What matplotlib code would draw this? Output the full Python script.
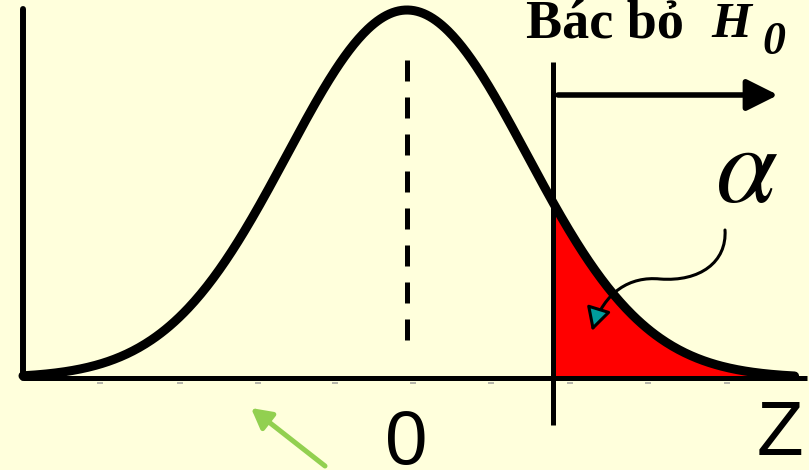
import numpy as np
import matplotlib
matplotlib.use("Agg")
import matplotlib.pyplot as plt
import matplotlib.transforms as mtransforms
from matplotlib.patches import FancyArrowPatch
from matplotlib.path import Path

# ---- data ----
mu = 0.0
sigma = 1.0
z_crit = 1.22                 # critical value (start of rejection region)
z_curve = (-3.2, 3.23)        # drawn extent of the density curve
z_axis = (-3.2, 3.33)         # horizontal axis extent
tick_z = [-2.56, -1.89, -1.24, -0.6, 0.05, 0.7, 1.36, 2.01, 2.67]
center_label = "0"
axis_label = "Z"
alpha_label = r"$\alpha$"
reject_text = "Bác bỏ"
reject_sym = "H"
reject_sub = "0"

W, H = 809, 470
BG = "#FFFFDC"

plt.rcParams["mathtext.fontset"] = "stix"

def pdf(z):
    return np.exp(-0.5 * ((z - mu) / sigma) ** 2) / (sigma * np.sqrt(2 * np.pi))

fig = plt.figure(figsize=(W / 100, H / 100), dpi=100)
fig.patch.set_facecolor(BG)
ax = fig.add_axes([0, 0, 1, 1])
ax.set_facecolor(BG)
ax.axis("off")

# pixel scale: 120 px per sigma, 922.4 px per density unit
xs, ys = 120.0, 922.4
x0, y0 = 407.0, 378.0
ax.set_xlim(-x0 / xs, (W - x0) / xs)
ax.set_ylim(-(H - y0) / ys, y0 / ys)

# pixel transform for annotations (origin top-left)
pxT = mtransforms.Affine2D().scale(1.0 / W, -1.0 / H).translate(0, 1) + fig.transFigure

# rejection region
zr = np.linspace(z_crit, z_curve[1], 200)
ax.fill_between(zr, pdf(zr), 0, color="#FF0000", lw=0, zorder=1)

# axes lines
ax.plot(list(z_axis), [0, 0], color="black", lw=3.6, solid_capstyle="butt", zorder=2)
ax.plot([z_axis[0], z_axis[0]], [0, 0.400], color="black", lw=4.3,
        solid_capstyle="round", zorder=2)

# small grey tick marks
ax.plot(tick_z, [-5.0 / ys] * len(tick_z), ls="none", marker="_", ms=4,
        mew=1.2, color="#A8A8A0", zorder=2)

# critical line
ax.plot([z_crit, z_crit], [-0.051, 0.3426], color="black", lw=3.6,
        solid_capstyle="butt", zorder=2)

# dashed mean line
ax.plot([mu, mu], [0.0412, 0.348], color="black", lw=3.6,
        dashes=(4.2, 3.2), dash_capstyle="butt", zorder=2)

# density curve
zc = np.linspace(z_curve[0], z_curve[1], 500)
ax.plot(zc, pdf(zc), color="black", lw=6.5, solid_capstyle="round",
        solid_joinstyle="round", zorder=3)

# "reject" arrow
arr = FancyArrowPatch((558, 95), (778, 95), transform=pxT,
                      arrowstyle="-|>,head_length=1.9,head_width=0.95",
                      mutation_scale=10, lw=4.0, color="black",
                      shrinkA=0, shrinkB=0, zorder=4)
ax.add_patch(arr)

# curved arrow to alpha region
verts = [(725, 230), (727, 262), (700, 282), (660, 279),
         (630, 276), (604, 292), (592, 331)]
codes = [Path.MOVETO, Path.CURVE4, Path.CURVE4, Path.CURVE4,
         Path.CURVE4, Path.CURVE4, Path.CURVE4]
carr = FancyArrowPatch(path=Path(verts, codes), transform=pxT,
                       arrowstyle="-|>,head_length=1.4,head_width=0.75",
                       mutation_scale=10, lw=2.2, edgecolor="black",
                       facecolor="#009C9C", zorder=5)
ax.add_patch(carr)

# green arrow
garr = FancyArrowPatch((325, 466), (251, 408), transform=pxT,
                       arrowstyle="-|>,head_length=1.2,head_width=0.65",
                       mutation_scale=10, lw=3.6, color="#92D050",
                       shrinkA=0, shrinkB=0, zorder=4)
ax.add_patch(garr)

# texts
ax.text(605, 37, reject_text, transform=pxT, ha="center", va="baseline",
        fontsize=39, fontweight="bold", family="Liberation Serif", zorder=6)
ax.text(711, 37, reject_sym, transform=pxT, ha="left", va="baseline",
        fontsize=37, fontweight="bold", fontstyle="italic",
        family="Liberation Serif", zorder=6)
ax.text(762, 54, reject_sub, transform=pxT, ha="left", va="baseline",
        fontsize=33, fontweight="bold", fontstyle="italic",
        family="Liberation Serif", zorder=6)
ax.text(747, 202, alpha_label, transform=pxT, ha="center", va="baseline",
        fontsize=80, zorder=6)
ax.text(406, 464, center_label, transform=pxT, ha="center", va="baseline",
        fontsize=55, family="Liberation Sans", zorder=6)
ax.text(780, 455, axis_label, transform=pxT, ha="center", va="baseline",
        fontsize=55, family="Liberation Sans", zorder=6)

fig.savefig("out.png", dpi=100, facecolor=BG)
